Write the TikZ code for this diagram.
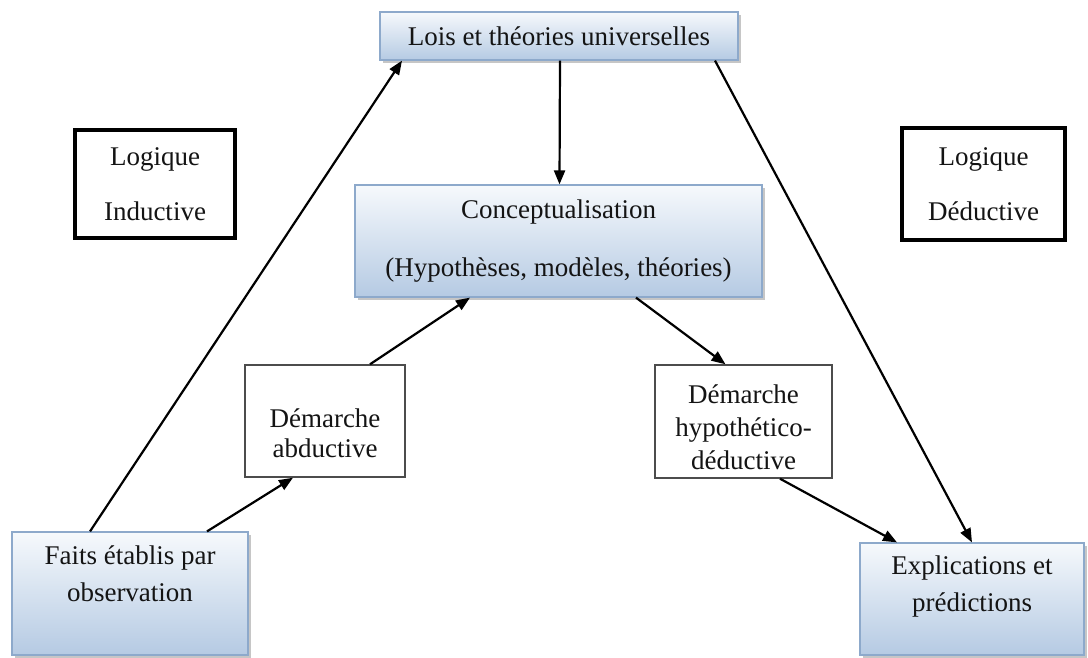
\documentclass[tikz,border=0pt]{standalone}
\usepackage{fontspec}
\setmainfont{Liberation Serif}
\usetikzlibrary{arrows.meta,shadows}
\definecolor{gtop}{HTML}{F6F9FC}
\definecolor{gbot}{HTML}{B5CAE3}
\definecolor{gbord}{HTML}{8DA9CB}
\definecolor{txt}{HTML}{141414}
\tikzset{
 gbox/.style={draw=gbord, line width=1.2pt, top color=gtop, bottom color=gbot,
   drop shadow={shadow xshift=3pt, shadow yshift=-3pt, fill=black!50, opacity=0.45}, inner sep=0pt},
 wbox/.style={draw=black!70, line width=1.4pt, fill=white, inner sep=0pt},
 lbox/.style={draw=black, line width=4.5pt, fill=white, inner sep=0pt},
 lbl/.style={text=txt, align=center},
 arr/.style={-{Triangle[length=14pt,width=11pt]}, line width=2.2pt, black},
}
\newcommand{\fs}[1]{\fontsize{27}{#1}\selectfont}
\begin{document}
\begin{tikzpicture}[x=1pt,y=-1pt]
\useasboundingbox (0,0) rectangle (1088,657);

\node[gbox, minimum width=358pt, minimum height=48pt, lbl, font=\fs{31}] (lois) at (559,36) {Lois et théories universelles};

\node[gbox, minimum width=407pt, minimum height=112pt, lbl, font=\fs{58}] (concept) at (558.5,241)
  {Conceptualisation\\(Hypothèses, modèles, théories)};

\node[lbox, minimum width=160pt, minimum height=108pt, lbl, font=\fs{55}] (logi) at (155,184)
  {Logique\\Inductive};
\node[lbox, minimum width=163pt, minimum height=112pt, lbl, font=\fs{55}] (logd) at (983.5,184)
  {Logique\\Déductive};

\node[wbox, minimum width=160pt, minimum height=112pt,
  label={[lbl, font=\fs{30}, yshift=-12pt]center:{Démarche\\abductive}}] (abd) at (325,421) {};
\node[wbox, minimum width=177pt, minimum height=113pt,
  label={[lbl, font=\fs{33}, yshift=-6pt]center:{Démarche\\hypothético-\\déductive}}] (hyp) at (743.5,421.5) {};

\node[gbox, minimum width=236pt, minimum height=123pt,
  label={[lbl, font=\fs{37}, yshift=20pt]center:{Faits établis par\\observation}}] (faits) at (130,593.5) {};
\node[gbox, minimum width=224pt, minimum height=112pt,
  label={[lbl, font=\fs{37}, yshift=12.5pt]center:{Explications et\\prédictions}}] (expl) at (972,599) {};

\draw[arr] ([xshift=-40pt]faits.north) -- ([xshift=-157pt]lois.south);
\draw[arr] ([xshift=77pt]faits.north) -- ([xshift=-32pt]abd.south);
\draw[arr] ([xshift=45pt]abd.north) -- ([xshift=-88.5pt]concept.south);
\draw[arr] ([xshift=1pt]lois.south) -- ([xshift=1pt]concept.north);
\draw[arr] ([xshift=77.5pt]concept.south) -- ([xshift=-18pt]hyp.north);
\draw[arr] ([xshift=36.5pt]hyp.south) -- ([xshift=-75pt]expl.north);
\draw[arr] ([xshift=156pt]lois.south) -- (expl.north);
\end{tikzpicture}
\end{document}
